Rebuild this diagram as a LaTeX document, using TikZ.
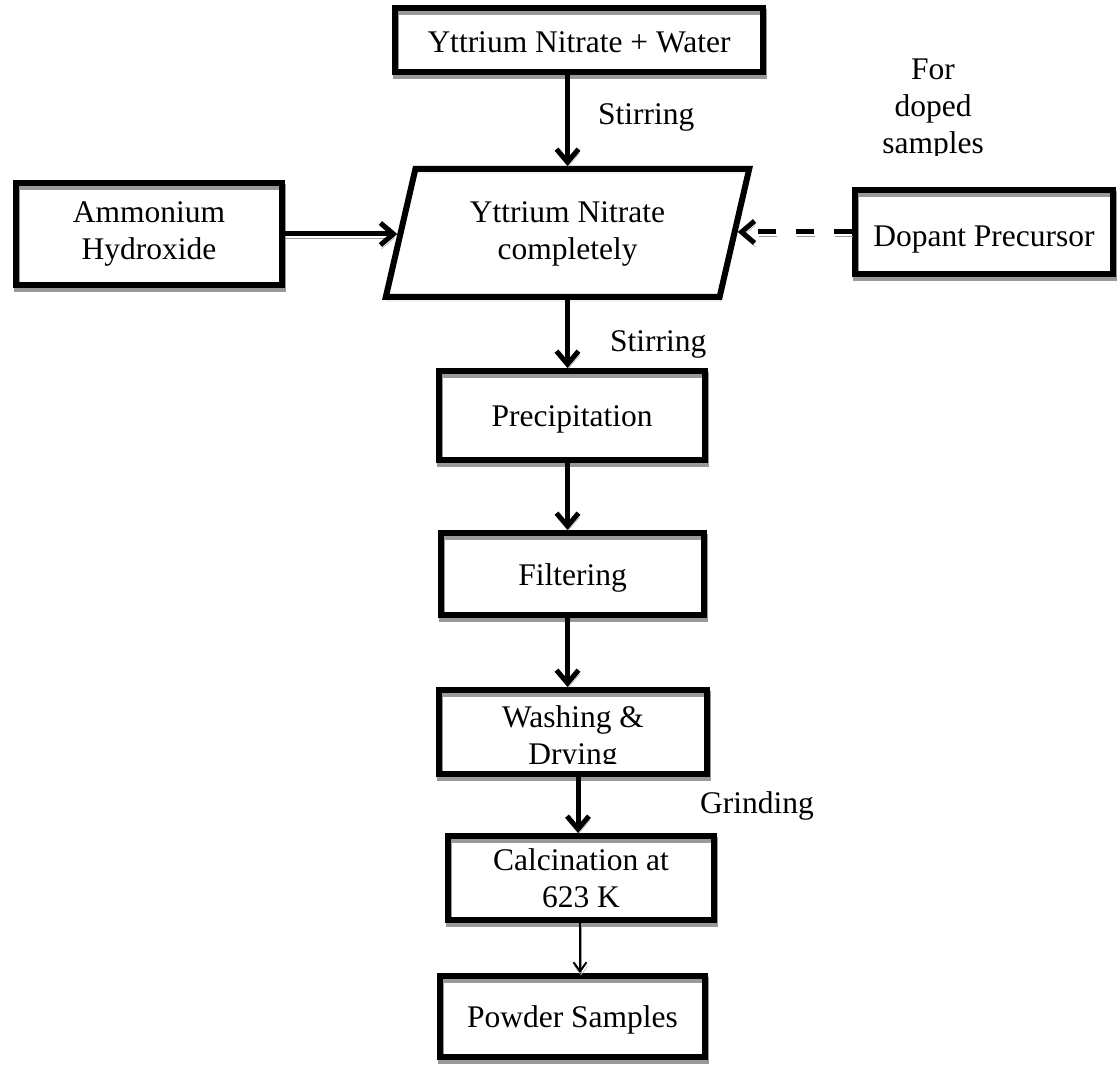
\documentclass[tikz,border=0pt]{standalone}
\usepackage{fontspec}
\setmainfont{Liberation Serif}
\usetikzlibrary{arrows.meta,shadows}
\newcommand\dgfont{\fontsize{31.5}{37}\selectfont}
\begin{document}
\begin{tikzpicture}[x=1pt,y=-1pt,
  shd/.style={general shadow={shadow xshift=1pt,shadow yshift=-4pt,draw=black!40}},
  box/.style={draw,line width=6pt,inner sep=0pt,align=center,font=\dgfont,shd},
  one/.style={text height=22.5pt,text depth=0pt},
  txt/.style={inner sep=0pt,align=center,font=\dgfont},
  arr/.style={line width=5pt,-{Straight Barb[length=13pt,width=22pt]},shd},
  thinarr/.style={line width=2pt,-{Straight Barb[length=9pt,width=13pt]},shd},
  dasharr/.style={line width=5pt,-{Straight Barb[length=13pt,width=22pt]},dash pattern=on 18pt off 20pt,
    general shadow={shadow xshift=1pt,shadow yshift=-4pt,draw=black!40,dash pattern=on 18pt off 20pt}},
]
\fill[white] (0,0) rectangle (1117,1067);
\useasboundingbox (0,0) rectangle (1117,1067);

% boxes
\node[box,text height=26pt,text depth=0pt,minimum width=368pt,minimum height=64pt] (top) at (579,40) {Yttrium Nitrate + Water};
\node[box,minimum width=266pt,minimum height=102pt] (amm) at (149,234) {Ammonium\\Hydroxide};
\node[box,text height=30pt,text depth=0pt,minimum width=258pt,minimum height=84pt] (dop) at (984,232) {Dopant Precursor};

% parallelogram
\draw[line width=6pt,line join=miter,shd] (415.4,169) -- (749.2,169) -- (719.6,297) -- (385.8,297) -- cycle;
\node[txt] (mix) at (567.5,234.2) {Yttrium Nitrate\\completely};
\coordinate (mixT) at (567.5,166);
\coordinate (mixB) at (567.5,300);
\coordinate (mixL) at (397.3,234);
\coordinate (mixR) at (737.7,232);

\node[box,one,minimum width=266pt,minimum height=89pt] (prec) at (572,415.5) {Precipitation};
\node[box,one,minimum width=263pt,minimum height=82pt] (filt) at (572.5,574) {Filtering};
\node[box,minimum width=268pt,minimum height=84pt] (wash) at (573,732) {};
\begin{scope}
  \clip (440,690) rectangle (706,763.5);
  \node[txt] (washtxt) at (573,738) {Washing \&\\Drying};
\end{scope}
\node[box,minimum width=266pt,minimum height=84pt] (calc) at (581,878) {Calcination at\\623 K};
\node[box,one,minimum width=265pt,minimum height=81pt] (pow) at (572.5,1016.5) {Powder Samples};

% side labels
\node[txt,anchor=base west] (stir1) at (598,125) {Stirring};
\node[txt,anchor=base west] (stir2) at (610,352) {Stirring};
\node[txt,anchor=base west] (grind) at (700,813) {Grinding};
\begin{scope}
  \clip (850,40) rectangle (1020,155.5);
  \node[txt] (fordoped) at (933,109.5) {For\\doped\\samples};
\end{scope}

% connectors
\draw[arr] (top.south -| mixT) -- (mixT);
\draw[arr] (amm.east) -- (mixL);
\draw[dasharr] (dop.west) -- (mixR);
\draw[arr] (mixB) -- (mixB |- prec.north);
\draw[arr] (prec.south -| mixB) -- (filt.north -| mixB);
\draw[arr] (filt.south -| mixB) -- (wash.north -| mixB);
\draw[arr] ([xshift=-3pt]wash.south -| calc.north) -- ([xshift=-3pt]calc.north);
\draw[thinarr] ([xshift=-1pt]calc.south) -- ([xshift=-1pt]calc.south |- pow.north);
\end{tikzpicture}
\end{document}
